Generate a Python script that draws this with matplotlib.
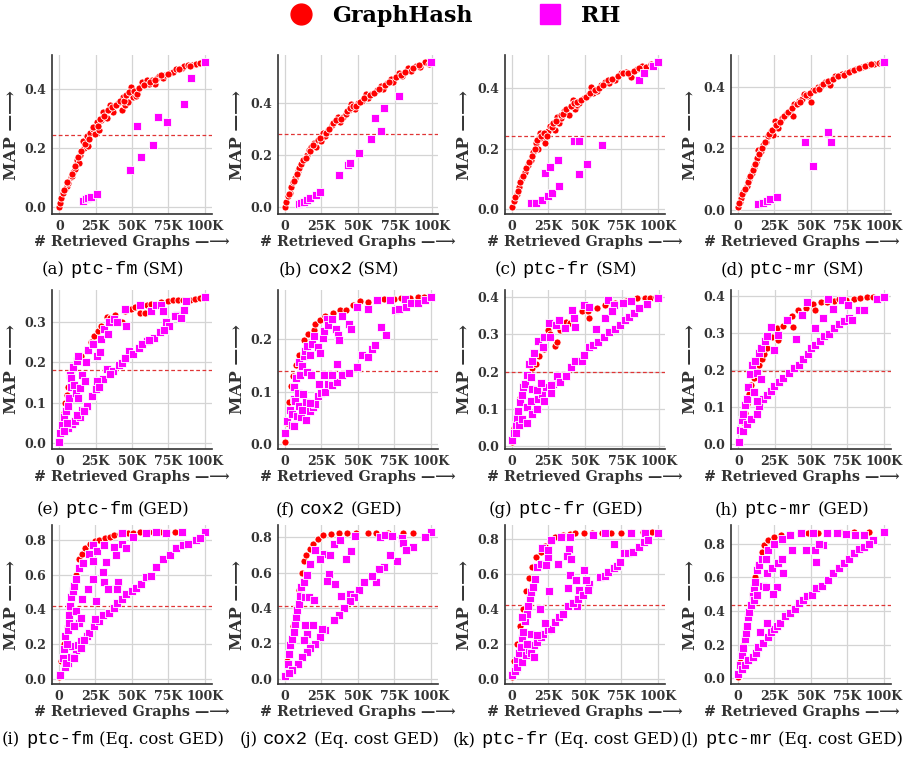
import matplotlib
matplotlib.use("Agg")
import matplotlib.pyplot as plt
from matplotlib.lines import Line2D
from matplotlib.offsetbox import TextArea, HPacker, AnnotationBbox
from matplotlib.ticker import MultipleLocator, FuncFormatter

plt.rcParams['font.family'] = ['DejaVu Serif', 'DejaVu Sans']
plt.rcParams['font.weight'] = 'bold'

# (retrieved graphs in thousands, MAP)
gh_a = [(0, 0.0), (0.7, 0.014), (1.5, 0.03), (2.7, 0.048), (4, 0.06), (5, 0.07), (6.2, 0.08), (7.8, 0.10),
        (8.5, 0.105), (9.6, 0.12), (10.8, 0.13), (11.5, 0.145), (12.4, 0.16), (13.5, 0.15), (14.2, 0.176),
        (16, 0.224), (17, 0.2), (18.8, 0.24), (19.9, 0.208), (21, 0.25), (22.9, 0.264), (24.9, 0.247),
        (25.6, 0.289), (27.5, 0.261), (29, 0.295), (30.2, 0.324), (32.5, 0.303), (34.8, 0.347), (35.5, 0.33),
        (37, 0.324), (40.5, 0.352), (42.8, 0.33), (43.9, 0.372), (45, 0.345), (47.4, 0.358), (49.2, 0.406),
        (50.5, 0.375), (52.6, 0.377), (54.2, 0.398), (56, 0.41), (57, 0.423), (60, 0.43), (61.8, 0.418),
        (63.5, 0.43), (65.7, 0.417), (67, 0.44), (68.6, 0.445), (71.4, 0.4375), (73, 0.45), (76, 0.457),
        (78, 0.46), (80.5, 0.468), (84.7, 0.474), (86, 0.478), (88.6, 0.483), (91, 0.482), (94.3, 0.486),
        (97, 0.488), (99.5, 0.49),
        (3.5, 0.058), (5.5, 0.085), (9, 0.11), (11, 0.14), (13, 0.17), (15, 0.19), (18, 0.215), (20.5, 0.23),
        (23.5, 0.27), (26.5, 0.275), (28, 0.3), (31, 0.31), (33.5, 0.33), (36, 0.34), (39, 0.345),
        (41.5, 0.36), (44.5, 0.36), (46, 0.38), (48, 0.39), (51.5, 0.395), (53.5, 0.385), (55, 0.405),
        (58.5, 0.415), (62.5, 0.425), (66, 0.432), (70, 0.447), (74.5, 0.452), (82, 0.47), (90, 0.478)]
rh_a = [(16.5, 0.02), (18.3, 0.027), (20, 0.03), (21.5, 0.034), (25.6, 0.045), (48.5, 0.125), (53.5, 0.275),
        (56.5, 0.17), (64.5, 0.21), (68.2, 0.307), (74.4, 0.29), (85.8, 0.35), (90.8, 0.44), (100, 0.492)]

gh_b = [(0.5, 0.0), (1.1, 0.02), (2.2, 0.04), (3.4, 0.055), (4.5, 0.075), (5.7, 0.094), (7.4, 0.11), (9, 0.14),
        (10, 0.15), (11.3, 0.166), (13.8, 0.19), (15, 0.2), (16.6, 0.218), (18.2, 0.23), (20, 0.245),
        (21.6, 0.23), (22.8, 0.257), (25, 0.254), (26, 0.283), (27.5, 0.275), (29.2, 0.296), (32, 0.315),
        (34, 0.33), (36, 0.348), (37.7, 0.326), (40, 0.345), (41.8, 0.358), (43.5, 0.375), (45.3, 0.397),
        (47.6, 0.378), (49.9, 0.4), (52.9, 0.41), (55.6, 0.437), (57, 0.42), (59, 0.437), (62.5, 0.45),
        (65.5, 0.465), (67, 0.455), (69.4, 0.478), (72.2, 0.495), (74, 0.48), (77.5, 0.515), (80, 0.505),
        (83.9, 0.534), (86, 0.525), (89, 0.543), (92, 0.54), (95.4, 0.558), (98, 0.553),
        (2.8, 0.05), (6.5, 0.1), (8.2, 0.125), (12.5, 0.18), (14.5, 0.19), (17.5, 0.215), (19, 0.24),
        (23.8, 0.265), (28.5, 0.285), (30.5, 0.3), (33, 0.325), (35, 0.335), (38.5, 0.34), (42.5, 0.37),
        (44.5, 0.38), (46.5, 0.39), (48.5, 0.39), (51.5, 0.405), (54, 0.42), (58, 0.43), (61, 0.44),
        (64, 0.455), (68, 0.47), (71, 0.48), (75.5, 0.5), (79, 0.51), (82, 0.52), (87, 0.535), (91, 0.548)]
rh_b = [(9.7, 0.009), (11.5, 0.014), (13.1, 0.02), (15, 0.026), (17.2, 0.033), (21.1, 0.046), (24.1, 0.056),
        (37.2, 0.124), (43, 0.16), (44.8, 0.17), (50.3, 0.208), (58.6, 0.26), (61.4, 0.341), (65.5, 0.293),
        (67.8, 0.383), (77.9, 0.427), (99.3, 0.558)]

gh_c = [(0.5, 0.008), (1.6, 0.028), (3.4, 0.05), (5, 0.073), (6.9, 0.103), (9, 0.123), (11.3, 0.146),
        (13.1, 0.163), (14.9, 0.19), (16.6, 0.219), (18, 0.2), (19.5, 0.25), (21, 0.235), (23, 0.219),
        (25, 0.258), (26.4, 0.275), (29.7, 0.261), (31, 0.303), (32.6, 0.284), (34, 0.3), (36, 0.325),
        (39.5, 0.31), (41.8, 0.361), (43.4, 0.33), (45, 0.345), (46.4, 0.351), (49.9, 0.366), (52.2, 0.378),
        (54.5, 0.403), (56, 0.385), (58.4, 0.389), (61.4, 0.411), (64, 0.42), (67, 0.415), (70.6, 0.428),
        (74.7, 0.448), (78.6, 0.454), (82, 0.437), (85.5, 0.463), (89, 0.474), (92, 0.47), (95.4, 0.479),
        (98.5, 0.48),
        (2.5, 0.04), (4.2, 0.06), (6, 0.09), (8, 0.11), (10, 0.135), (12, 0.155), (14, 0.175), (15.8, 0.2),
        (17.5, 0.23), (20, 0.24), (22, 0.25), (24, 0.24), (27.5, 0.27), (28.5, 0.285), (30.5, 0.29),
        (33.5, 0.31), (35, 0.315), (37.5, 0.33), (40.5, 0.34), (42.5, 0.35), (44.5, 0.355), (47.5, 0.36),
        (51, 0.37), (53.5, 0.385), (57, 0.395), (60, 0.4), (62.5, 0.41), (66, 0.425), (69, 0.43),
        (72.5, 0.44), (76.5, 0.45), (80, 0.45), (84, 0.455), (87, 0.466)]
rh_c = [(13.6, 0.019), (17, 0.022), (20.5, 0.03), (23, 0.118), (24.6, 0.045), (26.4, 0.14), (27.6, 0.053),
        (31.5, 0.163), (32.6, 0.075), (42.5, 0.224), (46, 0.226), (46.4, 0.115), (51.5, 0.148), (62, 0.213),
        (87.4, 0.428), (90.8, 0.45), (97, 0.474), (100, 0.485)]

gh_d = [(0.5, 0.009), (1.5, 0.025), (2.7, 0.039), (3.9, 0.056), (6.2, 0.078), (7.8, 0.1), (9.6, 0.12),
        (11.4, 0.139), (12.5, 0.155), (13.5, 0.167), (14.2, 0.194), (16, 0.19), (17.6, 0.211), (19.2, 0.222),
        (20.6, 0.239), (22.9, 0.256), (24, 0.244), (25.6, 0.289), (27.9, 0.267), (30.2, 0.298), (33, 0.311),
        (35.9, 0.322), (38.2, 0.306), (38.9, 0.344), (42.3, 0.356), (44, 0.36), (45.8, 0.378), (48, 0.37),
        (50.3, 0.352), (51.5, 0.391), (54.9, 0.4), (57, 0.405), (60, 0.417), (63.4, 0.406), (66.8, 0.436),
        (71.4, 0.441), (74, 0.445), (77.8, 0.453), (81, 0.46), (85.1, 0.467), (89.2, 0.472), (93.1, 0.476),
        (96.6, 0.478), (99, 0.48),
        (1, 0.02), (3.3, 0.05), (5, 0.068), (7, 0.09), (8.7, 0.11), (10.5, 0.13), (12, 0.148), (15, 0.18),
        (16.8, 0.2), (18.5, 0.22), (21.5, 0.245), (23.5, 0.26), (26.5, 0.275), (29, 0.285), (31.5, 0.305),
        (34.5, 0.32), (37, 0.33), (40.5, 0.345), (43, 0.35), (47, 0.375), (49.5, 0.38), (53, 0.39),
        (56, 0.395), (58.5, 0.41), (62, 0.42), (65, 0.425), (69, 0.435), (72.5, 0.44), (76, 0.45),
        (79.5, 0.455), (83, 0.462), (87, 0.47), (91, 0.474)]
rh_d = [(14.2, 0.017), (17.6, 0.022), (19.9, 0.027), (22.2, 0.033), (26.8, 0.041), (46.2, 0.222),
        (51.9, 0.141), (61.6, 0.252), (64.1, 0.22), (100, 0.481)]

gh_e = [(0, 0.005), (1, 0.03), (2, 0.05), (3, 0.075), (4, 0.1), (5, 0.12), (6, 0.14), (7.5, 0.16), (9, 0.18),
        (12, 0.2), (15, 0.215), (19.2, 0.227), (22, 0.25), (23.8, 0.264), (26.8, 0.277), (29, 0.29),
        (32.5, 0.312), (35, 0.31), (38.2, 0.317), (42.8, 0.3), (45, 0.325), (49, 0.331), (52, 0.335),
        (55.8, 0.321), (58.8, 0.321), (60, 0.341), (63, 0.343), (66.8, 0.343), (70, 0.348), (74.8, 0.351),
        (78, 0.352), (81.7, 0.353), (85, 0.354), (89.7, 0.354), (93, 0.356), (96.6, 0.358), (99.5, 0.359)]
rh_e = [(0, 0.004), (0.7, 0.025), (1.6, 0.045), (3.2, 0.064), (4.6, 0.079), (6.2, 0.091), (6.9, 0.112),
        (8, 0.14), (7.3, 0.169), (9.6, 0.188), (12.4, 0.202), (13, 0.215), (18.3, 0.2), (19.9, 0.231),
        (22.9, 0.244), (25.6, 0.215), (27.9, 0.225), (29, 0.256), (30.6, 0.281), (33.6, 0.269), (34.3, 0.298),
        (37.8, 0.306), (39.4, 0.3), (45.8, 0.289), (45.1, 0.331), (55.8, 0.34), (63.4, 0.325), (66.4, 0.341),
        (69.8, 0.341), (71.4, 0.326), (73.2, 0.3), (81.1, 0.316), (85.6, 0.329), (87.4, 0.35), (100, 0.36),
        (6.2, 0.037), (8.5, 0.047), (10.8, 0.054), (14.2, 0.066), (15.3, 0.083), (19.2, 0.091), (22.2, 0.117),
        (25.2, 0.134), (30.2, 0.159), (32.9, 0.183), (37, 0.179), (41.2, 0.192), (42.8, 0.198), (48, 0.227),
        (50.8, 0.219), (54.9, 0.236), (60, 0.252), (65.2, 0.26), (69.1, 0.274), (75.5, 0.289), (79.9, 0.314),
        (84, 0.31), (8, 0.161), (10, 0.145), (11.4, 0.124), (14.2, 0.136), (15.3, 0.169), (17.6, 0.153),
        (25.6, 0.153), (13, 0.112), (3, 0.03), (5, 0.05), (12, 0.07), (17, 0.08), (27, 0.14), (35, 0.17),
        (45, 0.21), (57, 0.245), (62, 0.255), (72, 0.28)]

gh_f = [(0.5, 0.005), (1.5, 0.04), (3, 0.08), (4.5, 0.11), (6, 0.13), (8, 0.15), (10, 0.17), (13.1, 0.197),
        (15.9, 0.21), (20, 0.217), (20.5, 0.229), (24, 0.235), (28, 0.243), (33, 0.25), (38, 0.255),
        (41.8, 0.254), (47.1, 0.265), (51.7, 0.272), (57, 0.27), (62.5, 0.274), (68, 0.275), (75.2, 0.276),
        (80, 0.277), (85.5, 0.278), (91.3, 0.279), (95.4, 0.279)]
rh_f = [(0.5, 0.021), (1.6, 0.044), (3.4, 0.066), (5, 0.057), (6.2, 0.086), (6.7, 0.108), (8, 0.125),
        (9.7, 0.157), (9, 0.098), (10.8, 0.132), (12, 0.148), (13.1, 0.168), (14.2, 0.177), (15.4, 0.186),
        (17.2, 0.17), (18.9, 0.19), (20, 0.206), (22.8, 0.184), (24.1, 0.173), (26.4, 0.201), (26.9, 0.215),
        (29.2, 0.237), (29.7, 0.226), (32.6, 0.238), (34.9, 0.218), (36.6, 0.207), (37.2, 0.197), (39, 0.243),
        (44.1, 0.228), (45.7, 0.219), (49.4, 0.261), (56.8, 0.257), (63.2, 0.274), (66, 0.223), (69.4, 0.208),
        (72.2, 0.274), (75.6, 0.254), (78.6, 0.256), (83.2, 0.261), (82.5, 0.276), (86.2, 0.268),
        (91.3, 0.268), (95.9, 0.274), (100, 0.279),
        (5, 0.037), (6.7, 0.035), (8.5, 0.054), (11.3, 0.052), (13.6, 0.07), (15, 0.047), (17.2, 0.064),
        (19.5, 0.07), (21.1, 0.076), (22.8, 0.091), (25, 0.097), (28, 0.099), (29.7, 0.115), (32.6, 0.112),
        (36.1, 0.118), (39.5, 0.131), (35.6, 0.152), (44.1, 0.136), (49.9, 0.147), (52.9, 0.17), (56.8, 0.165),
        (59.8, 0.18), (62.1, 0.189), (7.4, 0.083), (9.7, 0.073), (12, 0.065), (15, 0.081), (17.7, 0.079),
        (12.6, 0.096), (15.4, 0.137), (18.2, 0.131), (23.4, 0.115), (26.9, 0.132), (32.6, 0.131)]

gh_g = [(0.5, 0.012), (2, 0.05), (4, 0.09), (6, 0.13), (8, 0.16), (11, 0.19), (14, 0.21), (16.6, 0.219),
        (18.9, 0.242), (22.3, 0.26), (24.6, 0.311), (26, 0.3), (29.2, 0.269), (31, 0.279), (33, 0.31),
        (37.2, 0.334), (40, 0.33), (43, 0.343), (47.6, 0.361), (52, 0.361), (52.6, 0.343), (57.9, 0.37),
        (63.7, 0.378), (70.6, 0.384), (77.5, 0.389), (85.5, 0.396), (90.8, 0.398), (94, 0.398), (98, 0.399)]
rh_g = [(0.5, 0.017), (1.6, 0.035), (2.8, 0.058), (3.9, 0.076), (4.6, 0.095), (5.7, 0.118), (6.9, 0.136),
        (8, 0.159), (9, 0.168), (10.3, 0.191), (12, 0.219), (14.2, 0.228), (15.4, 0.251), (18.2, 0.283),
        (21.1, 0.267), (22.3, 0.292), (25.7, 0.329), (26.4, 0.292), (30.3, 0.325), (32.2, 0.338),
        (36.6, 0.317), (41.1, 0.366), (43, 0.318), (42.5, 0.343), (49.4, 0.379), (52.9, 0.372), (57.5, 0.313),
        (63.2, 0.343), (65.5, 0.391), (69.4, 0.379), (68.3, 0.363), (75.6, 0.384), (80.9, 0.389), (92, 0.382),
        (99.3, 0.398),
        (2.8, 0.035), (5, 0.058), (7.4, 0.072), (10.8, 0.063), (10.3, 0.104), (13.1, 0.122), (14.2, 0.086),
        (17.2, 0.099), (18.2, 0.127), (20.5, 0.141), (21.8, 0.122), (23.4, 0.159), (26.9, 0.143), (28, 0.168),
        (31, 0.189), (32.6, 0.173), (37.2, 0.189), (40.7, 0.212), (43, 0.228), (47.6, 0.228), (49.4, 0.244),
        (52.6, 0.265), (55.6, 0.271), (58.6, 0.28), (62.5, 0.292), (66.4, 0.306), (70.6, 0.313), (74, 0.325),
        (77, 0.338), (79.8, 0.346), (83.2, 0.357), (86.7, 0.37), (91.7, 0.382),
        (14.2, 0.154), (17.2, 0.15), (20, 0.17), (13.1, 0.186), (26.9, 0.163)]

gh_h = [(0, 0.007), (1.5, 0.035), (3, 0.06), (4.5, 0.085), (6, 0.11), (7.5, 0.135), (9, 0.16), (10.5, 0.18),
        (12, 0.2), (14, 0.215), (16, 0.23), (18, 0.245), (20, 0.26), (23, 0.29), (26.9, 0.315), (27.6, 0.283),
        (31, 0.32), (33.8, 0.334), (37.2, 0.348), (37.9, 0.317), (41.1, 0.363), (43.4, 0.35), (46.4, 0.369),
        (51.7, 0.38), (52.6, 0.363), (56.8, 0.384), (61, 0.385), (66, 0.389), (69.4, 0.394), (74, 0.39),
        (79.3, 0.394), (84, 0.395), (88.5, 0.398), (92.4, 0.398)]
rh_h = [(0.5, 0.007), (1.1, 0.04), (2.3, 0.067), (3.4, 0.083), (4.6, 0.106), (5.7, 0.122), (6.7, 0.154),
        (8, 0.189), (9.7, 0.214), (11.3, 0.225), (14.2, 0.246), (15.9, 0.262), (18.2, 0.279), (20, 0.292),
        (22.3, 0.317), (24.6, 0.256), (27.4, 0.297), (33.3, 0.336), (39.8, 0.286), (44.1, 0.35), (47.1, 0.384),
        (52.6, 0.315), (58.4, 0.343), (61.4, 0.394), (64.8, 0.366), (71.3, 0.391), (75.6, 0.378),
        (83.2, 0.363), (86.2, 0.363), (95.4, 0.394), (100, 0.398),
        (3.4, 0.035), (6.2, 0.055), (8.5, 0.069), (12.6, 0.083), (14.2, 0.104), (17.2, 0.122), (19.5, 0.133),
        (22.3, 0.145), (24.6, 0.157), (28, 0.168), (31, 0.179), (35, 0.194), (38.4, 0.207), (41.8, 0.216),
        (44.8, 0.231), (48, 0.244), (49.9, 0.26), (52.9, 0.269), (56.3, 0.28), (59, 0.292), (62.5, 0.299),
        (66, 0.315), (69.4, 0.325), (72.9, 0.334), (76.3, 0.343), (77.9, 0.336),
        (10.8, 0.141), (12.6, 0.118), (13.1, 0.192), (15.4, 0.178)]

gh_i = [(0.5, 0.01), (2, 0.1), (4, 0.2), (6, 0.3), (8, 0.4), (10, 0.5), (12, 0.6), (13.9, 0.689), (16, 0.72),
        (18.3, 0.755), (21.5, 0.777), (25.2, 0.796), (28, 0.8), (32, 0.81), (35, 0.82), (38.2, 0.829),
        (42, 0.835), (47.4, 0.839), (51, 0.84), (55.4, 0.845), (62, 0.845), (69.1, 0.845), (74, 0.845),
        (80, 0.845)]
rh_i = [(1.1, 0.018), (4.6, 0.068), (6.2, 0.088), (7.8, 0.117), (10.8, 0.127), (11.9, 0.166), (9.2, 0.185),
        (3, 0.12), (3.5, 0.17), (5.5, 0.2), (4.6, 0.244), (6.2, 0.283), (7.3, 0.322), (6.9, 0.365),
        (7.8, 0.42), (8.5, 0.468), (9.6, 0.507), (10.8, 0.533), (11.9, 0.576), (13.7, 0.638), (16.5, 0.67),
        (21.1, 0.722), (23.8, 0.771), (26.1, 0.736), (31.4, 0.771), (37.8, 0.761), (39.4, 0.712),
        (43.5, 0.775), (46.2, 0.751), (43.5, 0.839), (50.8, 0.82), (60, 0.843), (66.8, 0.845), (73.7, 0.843),
        (84.7, 0.845), (100, 0.845),
        (11.9, 0.39), (13.7, 0.322), (15.3, 0.351), (10.8, 0.302), (16, 0.459), (19.9, 0.517), (23.3, 0.68),
        (23.8, 0.576), (25.6, 0.449), (30.2, 0.615), (31.4, 0.556), (33.6, 0.517), (32.5, 0.673),
        (40.5, 0.56), (39.8, 0.517),
        (5, 0.088), (8.5, 0.127), (13, 0.195), (15.3, 0.215), (19.2, 0.244), (21.1, 0.263), (24.5, 0.306),
        (27.5, 0.332), (30.2, 0.365), (34.8, 0.38), (38.2, 0.41), (39.8, 0.439), (43.5, 0.462), (46.2, 0.488),
        (50.3, 0.507), (53.1, 0.523), (56.5, 0.546), (60, 0.585), (63.4, 0.595), (66.8, 0.644), (71.4, 0.693),
        (76, 0.712), (80.1, 0.751), (85.1, 0.771), (88.6, 0.775), (94.3, 0.8), (96.6, 0.814),
        (10.8, 0.117), (15.3, 0.176), (17.6, 0.224), (25.2, 0.341)]

gh_j = [(0.5, 0.01), (2, 0.1), (4, 0.2), (6, 0.3), (8, 0.4), (10, 0.5), (12, 0.6), (13.6, 0.665),
        (14.9, 0.697), (17.2, 0.734), (19.5, 0.763), (23, 0.791), (26.4, 0.81), (31.5, 0.819), (37.2, 0.823),
        (43, 0.823), (48.7, 0.823), (56.8, 0.823), (62.5, 0.823), (70.6, 0.823), (80.9, 0.823), (87.8, 0.823)]
rh_j = [(0.5, 0.013), (2.1, 0.085), (2.8, 0.141), (3.9, 0.188), (5, 0.226), (6.2, 0.264), (6.9, 0.311),
        (8, 0.348), (8.5, 0.39), (9.7, 0.424), (10.8, 0.465), (11.5, 0.518), (13.1, 0.546), (15.4, 0.584),
        (17.2, 0.65), (21.1, 0.725), (26.9, 0.706), (31, 0.7), (33.8, 0.759), (37.9, 0.785), (45.3, 0.72),
        (48.3, 0.806), (30.3, 0.59), (29.2, 0.552), (34.5, 0.537), (38.9, 0.467), (41.8, 0.674), (24.1, 0.674),
        (44.8, 0.48),
        (65.5, 0.8), (69, 0.81), (73.6, 0.806), (80.2, 0.797), (80.9, 0.768), (87.8, 0.744), (82.8, 0.725),
        (77, 0.665), (72.4, 0.697), (68.3, 0.631), (64.8, 0.621), (62.5, 0.548), (59.8, 0.578), (54.5, 0.546),
        (51, 0.499), (47.6, 0.461), (44.8, 0.439), (40.7, 0.401), (37.2, 0.358), (33.8, 0.33), (28, 0.273),
        (24.1, 0.235), (21.1, 0.198), (17.7, 0.173), (15.4, 0.151), (12, 0.122), (9, 0.085), (5, 0.047),
        (2.8, 0.032), (100, 0.828), (95.9, 0.8),
        (14.3, 0.461), (16.5, 0.461), (20, 0.446), (13.8, 0.301), (19.5, 0.301), (15.4, 0.254),
        (13.1, 0.216), (25.7, 0.282)]

gh_k = [(0.5, 0.01), (2, 0.1), (4, 0.2), (6, 0.3), (8, 0.4), (10, 0.5), (12, 0.58), (14, 0.64), (17, 0.7),
        (20, 0.727), (23, 0.76), (26, 0.79), (30, 0.81), (35, 0.822), (40, 0.83), (43.4, 0.833), (49.4, 0.836),
        (55, 0.837), (62, 0.838), (68, 0.838), (75.2, 0.838), (82, 0.839), (90, 0.839), (96, 0.84)]
rh_k = [(0.5, 0.019), (2.8, 0.057), (3.9, 0.105), (5, 0.144), (6.2, 0.182), (7.4, 0.23), (8, 0.268),
        (9.2, 0.331), (10.3, 0.373), (11.3, 0.415), (12.6, 0.463), (13.1, 0.498), (14.9, 0.526), (15.9, 0.574),
        (17.2, 0.641), (20, 0.66), (20.5, 0.75), (23.4, 0.651), (24.6, 0.699), (25, 0.737), (26.9, 0.798),
        (31.5, 0.66), (33.8, 0.813), (40.2, 0.813), (39.5, 0.746), (37.9, 0.704), (40.7, 0.689), (40.2, 0.593),
        (25.7, 0.503), (38.4, 0.517), (46, 0.511), (44.1, 0.568), (49.9, 0.622), (52.9, 0.542), (51, 0.568),
        (44.8, 0.419), (55.6, 0.823), (63.7, 0.836), (70.1, 0.775), (81.6, 0.836), (91.3, 0.836), (100, 0.836),
        (2.3, 0.044), (3.9, 0.067), (6.9, 0.096), (9.7, 0.134), (12, 0.163), (13.6, 0.144), (15.4, 0.191),
        (17.7, 0.211), (20, 0.239), (21.8, 0.255), (24.6, 0.278), (26.9, 0.287), (29.7, 0.325), (32.6, 0.354),
        (34.9, 0.373), (38.4, 0.415), (41.8, 0.434), (45.3, 0.459), (48.7, 0.478), (52.2, 0.507),
        (60.2, 0.584), (63.7, 0.587), (66, 0.612), (70.1, 0.632), (72.4, 0.645), (74, 0.67), (77, 0.718),
        (79.8, 0.722), (83.2, 0.727), (87.1, 0.756), (90.8, 0.785), (93.6, 0.798),
        (7.4, 0.354), (13.6, 0.258), (17.2, 0.249), (19.5, 0.402), (22.8, 0.316), (10.8, 0.201), (15.4, 0.124)]

gh_l = [(0.5, 0.01), (2, 0.1), (4, 0.2), (6, 0.3), (8, 0.4), (10, 0.5), (12, 0.6), (14, 0.68), (16.6, 0.751),
        (18.2, 0.795), (20.5, 0.819), (24.6, 0.839), (30, 0.85), (36, 0.858), (43, 0.864), (48.3, 0.864),
        (55, 0.866), (62, 0.866), (70, 0.867), (80, 0.867), (90, 0.868)]
rh_l = [(0.5, 0.029), (1.6, 0.078), (2.8, 0.137), (3.9, 0.18), (5, 0.234), (5.7, 0.269), (6.2, 0.312),
        (7.4, 0.367), (8, 0.394), (9, 0.439), (10.3, 0.488), (11.3, 0.537), (12, 0.57), (13.6, 0.644),
        (14.9, 0.673), (16.6, 0.712), (21.1, 0.765), (25, 0.8), (30.3, 0.829), (36.1, 0.854), (43.4, 0.862),
        (51.7, 0.862), (61.4, 0.862), (67.8, 0.862), (74, 0.858), (80.5, 0.854), (86.7, 0.854), (92.4, 0.823),
        (100, 0.868),
        (11.3, 0.468), (13.6, 0.498), (17.2, 0.55), (19.5, 0.543), (20, 0.628), (23.4, 0.654), (26.9, 0.543),
        (24.1, 0.504), (31, 0.628), (27.4, 0.683), (37.2, 0.761), (30.3, 0.709), (19.5, 0.712), (52.9, 0.763),
        (47.1, 0.761), (54, 0.693), (58.4, 0.79), (55.6, 0.8),
        (2.8, 0.059), (5, 0.082), (7.4, 0.107), (10.8, 0.127), (12.6, 0.152), (14.3, 0.186), (17.7, 0.211),
        (20.5, 0.244), (22.8, 0.273), (24.6, 0.293), (26.9, 0.312), (29.2, 0.332), (32.6, 0.371),
        (36.1, 0.39), (39.5, 0.41), (41.8, 0.445), (44.8, 0.464), (47.6, 0.488), (51, 0.498), (54, 0.537),
        (57.9, 0.55), (61.8, 0.585), (65.5, 0.624), (69.4, 0.654), (72.9, 0.683), (76.3, 0.712),
        (79.8, 0.746), (83.2, 0.771), (86.7, 0.78), (89.7, 0.8), (20, 0.328), (15.4, 0.273)]

graphhash = [gh_a, gh_b, gh_c, gh_d, gh_e, gh_f, gh_g, gh_h, gh_i, gh_j, gh_k, gh_l]
rh = [rh_a, rh_b, rh_c, rh_d, rh_e, rh_f, rh_g, rh_h, rh_i, rh_j, rh_k, rh_l]
half_map = [0.245, 0.28, 0.24, 0.24, 0.18, 0.14, 0.198, 0.198, 0.42, 0.41, 0.42, 0.435]
tags = list("abcdefghijkl")
datasets = ["ptc-fm", "cox2", "ptc-fr", "ptc-mr"] * 3
settings = ["SM"] * 4 + ["GED"] * 4 + ["Eq. cost GED"] * 4

# layout (pixels)
W, H = 906, 759
col_left = [52, 278, 505, 731]
row_bottom = [214, 449, 684]
ax_w, ax_h = 160, 159
ystep = [0.2, 0.2, 0.2, 0.2, 0.1, 0.1, 0.1, 0.1, 0.2, 0.2, 0.2, 0.2]
cap_y = [270, 510, 740]
arrow = "\u2014\u27f6"

fig = plt.figure(figsize=(W / 100, H / 100), dpi=100)

serif = dict(family='DejaVu Serif', weight='normal', size=12, color='black')
mono = dict(family='Liberation Mono', weight='normal', size=13.5, color='black')

axes = []
for k in range(12):
    r, c = divmod(k, 4)
    left = col_left[c]
    top = row_bottom[r]
    ax = fig.add_axes([left / W, 1 - top / H, ax_w / W, ax_h / H])
    axes.append(ax)
    gx, gy = zip(*graphhash[k])
    rx, ry = zip(*rh[k])
    ax.scatter(gx, gy, s=26, c='#ff0000', marker='o', edgecolors='white', linewidths=0.6, zorder=3)
    ax.scatter(rx, ry, s=28, c='#ff00ff', marker='s', edgecolors='white', linewidths=0.6, zorder=4)
    ax.axhline(half_map[k], color='#e03535', ls=(0, (3, 2)), lw=0.9, zorder=2)

    ax.set_xticks([0, 25, 50, 75, 100])
    ax.xaxis.set_major_formatter(FuncFormatter(lambda v, p: "0" if v == 0 else f"{int(v)}K"))
    ax.yaxis.set_major_locator(MultipleLocator(ystep[k]))
    ax.yaxis.set_major_formatter(FuncFormatter(lambda v, p: f"{v:.1f}"))
    ax.grid(True, color='#d4d4d4', lw=0.9, zorder=0)
    ax.set_axisbelow(True)
    for s in ['top', 'right']:
        ax.spines[s].set_visible(False)
    for s in ['left', 'bottom']:
        ax.spines[s].set_color('#333333')
        ax.spines[s].set_linewidth(1.2)
    ax.tick_params(length=0, labelsize=9, colors='#333333', pad=4)
    ax.set_xlabel("# Retrieved Graphs " + arrow, fontsize=10.3, fontweight='bold', color='#333333',
                  labelpad=2)
    if c == 3:
        # keep the last column's label inside the figure
        ax.xaxis.label.set_x(0.44)
    ax.set_ylabel("MAP " + arrow, fontsize=12, fontweight='bold', color='#333333', labelpad=3)

    parts = [TextArea(f"({tags[k]})", textprops=serif),
             TextArea(datasets[k], textprops=mono),
             TextArea(f"({settings[k]})", textprops=serif)]
    box = HPacker(children=parts, align="baseline", pad=0, sep=4)
    cx = left + ax_w / 2 - 19
    ab = AnnotationBbox(box, (cx, H - cap_y[r]), xycoords='figure pixels', frameon=False,
                        box_alignment=(0.5, 0.5), pad=0)
    fig.add_artist(ab)

handles = [Line2D([], [], ls='none', marker='o', color='#ff0000', markersize=15),
           Line2D([], [], ls='none', marker='s', color='#ff00ff', markersize=15)]
fig.legend(handles, ["GraphHash", "RH"], loc='center', bbox_to_anchor=(455 / W, 1 - 16 / H), ncol=2,
           frameon=False, prop=dict(family='DejaVu Serif', weight='bold', size=16),
           handlelength=1.0, handletextpad=0.9, columnspacing=3.0, borderpad=0)

fig.canvas.draw()
for ax in axes:
    for lab in ax.get_xticklabels() + ax.get_yticklabels():
        lab.set_fontweight('bold')

fig.savefig("out.png", dpi=100)
